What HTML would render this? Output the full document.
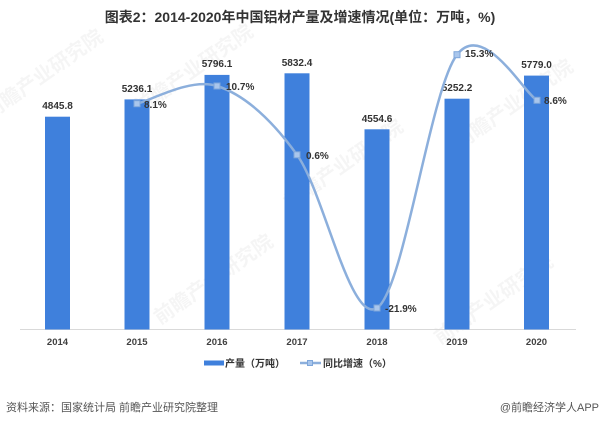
<!DOCTYPE html>
<html><head><meta charset="utf-8">
<style>
html,body{margin:0;padding:0;background:#fff;}
svg{display:block;}
text{font-family:"Liberation Sans","Noto Sans CJK SC",sans-serif;}
</style></head>
<body>
<svg width="600" height="424" viewBox="0 0 600 424" xmlns="http://www.w3.org/2000/svg">
<rect width="600" height="424" fill="#fff"/>
<!-- watermarks -->
<g fill="#000" fill-opacity="0.04" font-size="20" font-weight="bold">
<text transform="translate(160,325) rotate(-35)">前瞻产业研究院</text>
<text transform="translate(440,345) rotate(-35)">前瞻产业研究院</text>
<text transform="translate(290,210) rotate(-35)">前瞻产业研究院</text>
<text transform="translate(-10,120) rotate(-35)">前瞻产业研究院</text>
<text transform="translate(140,115) rotate(-35)">前瞻产业研究院</text>
<text transform="translate(460,150) rotate(-35)">前瞻产业研究院</text>
</g>
<!-- title -->
<text x="300" y="22" text-anchor="middle" font-size="14" font-weight="bold" fill="#333">图表2：2014-2020年中国铝材产量及增速情况(单位：万吨，%)</text>
<!-- axis -->
<line x1="20" y1="329.5" x2="576" y2="329.5" stroke="#d9d9d9" stroke-width="1"/>
<!-- bars -->
<g fill="#3f80dc">
<rect x="45" y="116.7" width="25" height="212.8"/>
<rect x="124.5" y="99.4" width="25" height="230.1"/>
<rect x="204.5" y="74.9" width="25" height="254.6"/>
<rect x="284.5" y="73.3" width="25" height="256.2"/>
<rect x="364.5" y="129.3" width="25" height="200.2"/>
<rect x="444.5" y="98.7" width="25" height="230.8"/>
<rect x="524" y="75.6" width="25" height="253.9"/>
</g>
<!-- bar labels -->
<g font-size="10" font-weight="bold" fill="#333" text-anchor="middle">
<text x="57.5" y="109">4845.8</text>
<text x="137" y="92">5236.1</text>
<text x="217" y="67">5796.1</text>
<text x="297" y="66">5832.4</text>
<text x="377" y="122">4554.6</text>
<text x="457" y="91">5252.2</text>
<text x="536.5" y="68">5779.0</text>
</g>
<!-- line -->
<path d="M137,103.7 C150.3,100.75 190.3,77.5 217,86 C243.7,94.5 270.3,117.8 297,154.8 C323.7,191.8 350.3,324.7 377,308 C403.7,291.3 430.3,89.3 457,54.7 C483.7,20.1 523.7,92.7 537,100.3" fill="none" stroke="#8cafdc" stroke-width="2.5"/>
<g fill="#a9c6ec" stroke="#7ea6da" stroke-width="1">
<rect x="134" y="100.7" width="6" height="6"/>
<rect x="214" y="83" width="6" height="6"/>
<rect x="294" y="151.8" width="6" height="6"/>
<rect x="374" y="305" width="6" height="6"/>
<rect x="454" y="51.7" width="6" height="6"/>
<rect x="534" y="97.3" width="6" height="6"/>
</g>
<!-- growth labels -->
<g font-size="10" font-weight="bold" fill="#333">
<text x="144" y="108">8.1%</text>
<text x="226" y="90">10.7%</text>
<text x="306" y="159">0.6%</text>
<text x="385" y="312">-21.9%</text>
<text x="465" y="57">15.3%</text>
<text x="544" y="104">8.6%</text>
</g>
<!-- year labels -->
<g font-size="9.5" font-weight="bold" fill="#404040" text-anchor="middle">
<text x="57.5" y="345">2014</text>
<text x="137" y="345">2015</text>
<text x="217" y="345">2016</text>
<text x="297" y="345">2017</text>
<text x="377" y="345">2018</text>
<text x="457" y="345">2019</text>
<text x="536.5" y="345">2020</text>
</g>
<!-- legend -->
<rect x="204" y="360.5" width="20" height="5" fill="#3f80dc"/>
<text x="225" y="367" font-size="10" font-weight="bold" fill="#333">产量（万吨）</text>
<line x1="300" y1="363" x2="321" y2="363" stroke="#8cafdc" stroke-width="2.5"/>
<rect x="307.5" y="360.5" width="5" height="5" fill="#a9c6ec" stroke="#7ea6da" stroke-width="1"/>
<text x="323" y="367" font-size="10" font-weight="bold" fill="#333">同比增速（%）</text>
<!-- footer -->
<text x="6" y="411" font-size="11" fill="#555">资料来源：国家统计局 前瞻产业研究院整理</text>
<text x="599" y="411" font-size="11" fill="#555" text-anchor="end">@前瞻经济学人APP</text>
</svg>
</body></html>
